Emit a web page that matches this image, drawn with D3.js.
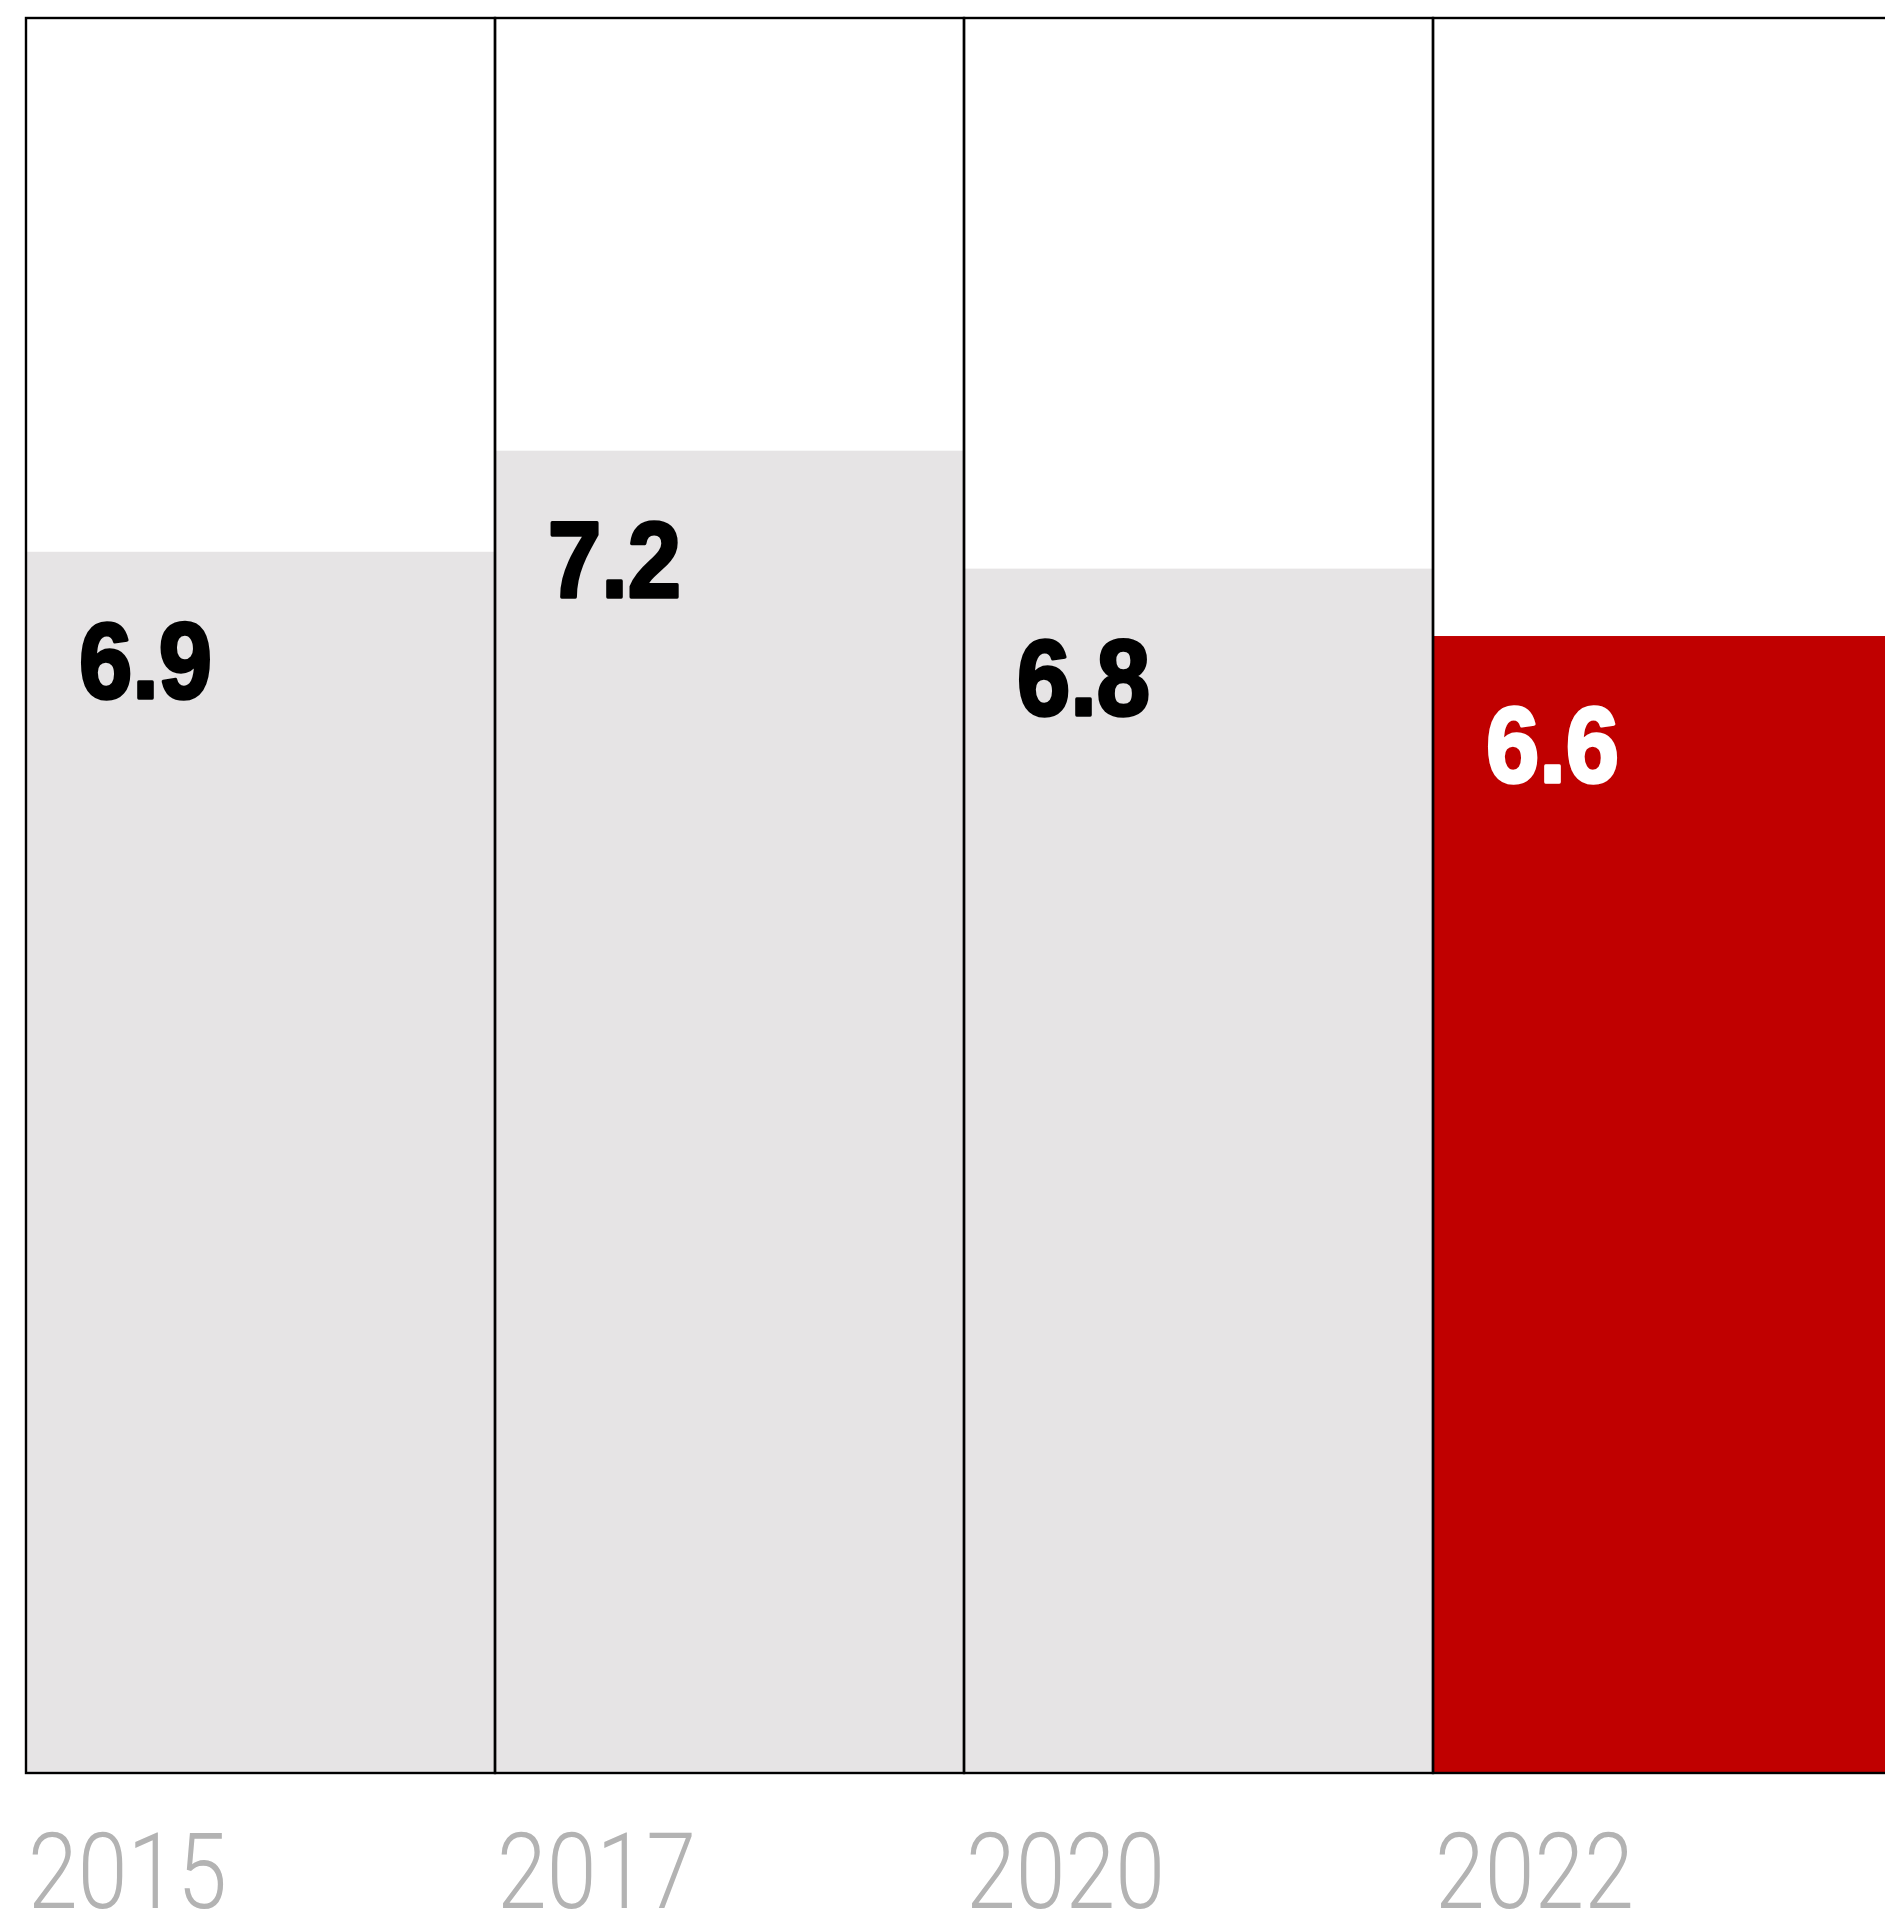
<!DOCTYPE html>
<html>
<head>
<meta charset="utf-8">
<script src="https://cdn.jsdelivr.net/npm/d3@7"></script>
<style>
  html, body { margin: 0; padding: 0; background: #ffffff; }
  svg { display: block; }
</style>
</head>
<body>
<div id="chart"></div>
<script>
// ---- data ----
const years = ["2015", "2017", "2020", "2022"];
const values = [6.85, 7.15, 6.80, 6.60];          // underlying values
const valueLabels = ["6.9", "7.2", "6.8", "6.6"]; // labels as printed
const highlight = ["2022"];

(function () {
  // ---- layout ----
  const W = 1885, H = 1920;
  const mLeft = 26, mTop = 18, mBottom = 1773;
  const cellW = 469;

  const svg = d3.select("#chart").append("svg")
    .attr("width", W).attr("height", H);

  const x = d3.scaleBand()
    .domain(years)
    .range([mLeft, mLeft + cellW * years.length])
    .padding(0);

  const y = d3.scaleLinear()
    .domain([3.226, 8.434])
    .range([mBottom, mTop]);

  const data = years.map((yr, i) => ({ year: yr, value: values[i], label: valueLabels[i] }));

  // bars
  svg.append("g").selectAll("rect")
    .data(data)
    .join("rect")
    .attr("x", d => x(d.year))
    .attr("width", x.bandwidth())
    .attr("y", d => y(d.value))
    .attr("height", d => y.range()[0] - y(d.value))
    .attr("fill", d => highlight.includes(d.year) ? "#c00000" : "#e6e4e5");

  // cell frames
  svg.append("g").selectAll("rect")
    .data(data)
    .join("rect")
    .attr("x", d => x(d.year))
    .attr("width", x.bandwidth())
    .attr("y", y.range()[1])
    .attr("height", y.range()[0] - y.range()[1])
    .attr("fill", "none")
    .attr("stroke", "#000")
    .attr("stroke-width", 2.4);

  // value labels
  svg.append("g").selectAll("text")
    .data(data)
    .join("text")
    .attr("x", d => x(d.year) + 53)
    .attr("y", d => y(d.value) + 146)
    .attr("font-family", "'Liberation Sans', Arial, sans-serif")
    .attr("font-weight", 900)
    .attr("font-size", 107)
    .attr("textLength", 133)
    .attr("lengthAdjust", "spacingAndGlyphs")
    .attr("fill", d => highlight.includes(d.year) ? "#ffffff" : "#000000")
    .attr("stroke", d => highlight.includes(d.year) ? "#ffffff" : "#000000")
    .attr("stroke-width", 3.5)
    .attr("stroke-linejoin", "round")
    .text(d => d.label);

  // year labels (axis)
  const axis = d3.axisBottom(x).tickSize(0).tickPadding(0);
  const gAxis = svg.append("g")
    .attr("transform", `translate(0, ${mBottom})`)
    .call(axis);
  gAxis.select(".domain").remove();
  gAxis.selectAll(".tick").attr("transform", d => `translate(${x(d) + 2}, 0)`);
  gAxis.selectAll(".tick text")
    .attr("text-anchor", "start")
    .attr("dy", null)
    .attr("y", 135)
    .attr("font-family", "Roboto, 'Liberation Sans', sans-serif")
    .attr("font-weight", 300)
    .attr("font-size", 106)
    .attr("textLength", 199)
    .attr("lengthAdjust", "spacingAndGlyphs")
    .attr("fill", "#b3b3b3");
})();
</script>
</body>
</html>
